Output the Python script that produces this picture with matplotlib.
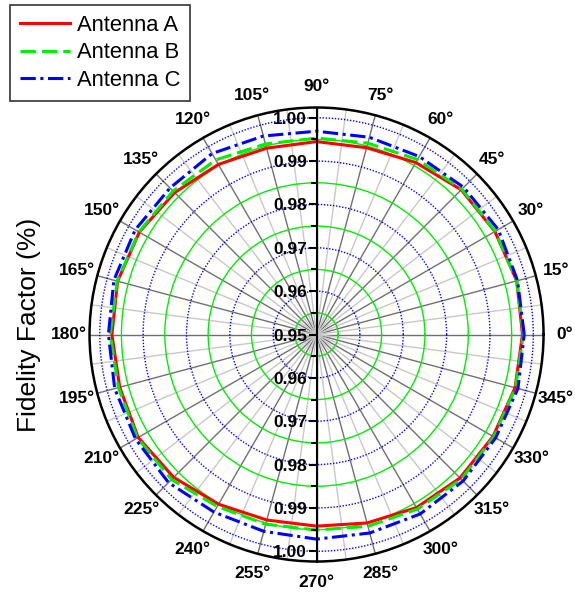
import numpy as np
import matplotlib.pyplot as plt
from matplotlib.ticker import FuncFormatter, MultipleLocator

plt.rcParams['font.family'] = ['Liberation Sans', 'DejaVu Sans']

# angles in degrees, fidelity factor per antenna
angles = [0, 15, 30, 45, 60, 75, 90, 105, 120, 135, 150, 165,
          180, 195, 210, 225, 240, 255, 270, 285, 300, 315, 330, 345]
antenna_a = [0.9975, 0.9978, 0.9975, 0.9972, 0.9958, 0.9946, 0.9945, 0.9945,
             0.9953, 0.9963, 0.9972, 0.9975, 0.9972, 0.9970, 0.9975, 0.9966,
             0.9952, 0.9943, 0.9942, 0.9950, 0.9961, 0.9968, 0.9970, 0.9974]
antenna_b = [0.9977, 0.9978, 0.9976, 0.9974, 0.9966, 0.9957, 0.9953, 0.9955,
             0.9965, 0.9968, 0.9973, 0.9976, 0.9976, 0.9973, 0.9977, 0.9973,
             0.9958, 0.9953, 0.9951, 0.9958, 0.9965, 0.9972, 0.9972, 0.9975]
antenna_c = [0.9979, 0.9980, 0.9984, 0.9980, 0.9974, 0.9971, 0.9969, 0.9974,
             0.9982, 0.9978, 0.9983, 0.9984, 0.9980, 0.9982, 0.9982, 0.9983,
             0.9973, 0.9970, 0.9972, 0.9974, 0.9978, 0.9978, 0.9977, 0.9981]

r_min = 0.95
r_max = 1.00236

theta = np.deg2rad(angles + [angles[0]])

fig = plt.figure(figsize=(5.75, 5.93), dpi=100)
rect = [0.1557, 0.0531, 0.7896, 0.7656]
ax = fig.add_axes(rect, projection='polar')

ax.plot(theta, antenna_a + [antenna_a[0]], color='#ff0000', lw=2.2, label='Antenna A')
ax.plot(theta, antenna_b + [antenna_b[0]], color='#00ee00', lw=2.2, dashes=(5, 2), label='Antenna B')
ax.plot(theta, antenna_c + [antenna_c[0]], color='#0000ff', lw=2.2, dashes=(5, 1.5, 1, 1.5), label='Antenna C')

ax.set_ylim(r_min, r_max)
ax.set_yticks([0.96, 0.97, 0.98, 0.99, 1.00])
ax.set_yticks([0.955, 0.965, 0.975, 0.985, 0.995], minor=True)
ax.set_yticklabels([])
ax.tick_params(axis='y', which='both', length=0)

ax.set_xticks(np.deg2rad(np.arange(0, 360, 15)))
ax.set_xticks(np.deg2rad(np.arange(7.5, 360, 15)), minor=True)
ax.set_xticklabels([f'{a}°' for a in range(0, 360, 15)], fontsize=12.5, fontweight='bold')
ax.tick_params(axis='x', which='major', direction='in', length=8, width=1.2, pad=8)
ax.tick_params(axis='x', which='minor', direction='in', length=5, width=1.2)

ax.xaxis.grid(True, which='major', color='#707070', lw=1, ls='-')
ax.xaxis.grid(True, which='minor', color='#c8c8c8', lw=1, ls='-')
ax.yaxis.grid(True, which='major', color='#0000ff', lw=1, ls=(0, (1, 1.2)))
ax.yaxis.grid(True, which='minor', color='#00ee00', lw=1, ls='-')
ax.set_axisbelow(True)
ax.spines['polar'].set_linewidth(1.8)

# vertical radial axis through the centre
ax2 = fig.add_axes(rect)
ax2.patch.set_visible(False)
ax2.set_xlim(-1, 1)
ax2.set_ylim(-(r_max - r_min), r_max - r_min)
for s in ['top', 'right', 'bottom']:
    ax2.spines[s].set_visible(False)
ax2.spines['left'].set_position(('data', 0))
ax2.spines['left'].set_linewidth(1.5)
ax2.set_xticks([])
ax2.yaxis.set_major_locator(MultipleLocator(0.01))
ax2.yaxis.set_minor_locator(MultipleLocator(0.005))
ax2.yaxis.set_major_formatter(FuncFormatter(lambda y, p: f'{r_min + abs(y):.2f}'))
ax2.tick_params(axis='y', which='major', length=6, width=1.5, pad=1, labelsize=12.5)
ax2.tick_params(axis='y', which='minor', length=4, width=1.5)
for t in ax2.get_yticklabels():
    t.set_fontweight('bold')

fig.text(0.0496, 0.452, 'Fidelity Factor (%)', rotation=90, fontsize=19,
         ha='center', va='center')

leg = fig.legend(loc='upper left', bbox_to_anchor=(0.017, 0.992), fontsize=15.8,
                 frameon=True, fancybox=False, edgecolor='black', handlelength=2.3,
                 handletextpad=0.3, labelspacing=0.3, borderpad=0.45, borderaxespad=0)
leg.get_frame().set_linewidth(1.2)

plt.savefig('out.png', dpi=100)
